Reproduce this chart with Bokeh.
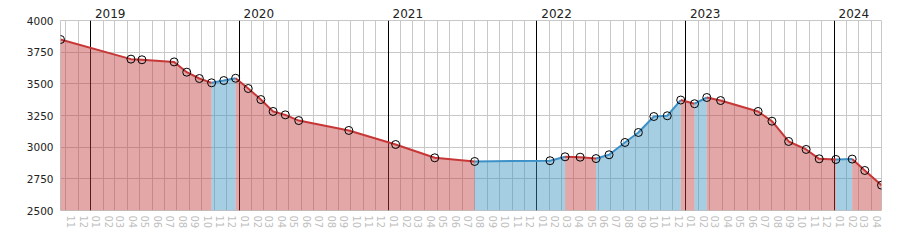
import pandas as pd
from bokeh.plotting import figure
from bokeh.models import FixedTicker, LinearAxis, Grid, Range1d
from bokeh.embed import file_html
from bokeh.resources import INLINE

# ---- data ----
dates = [
    "2018-10-19", "2019-04-10", "2019-05-07", "2019-07-25", "2019-08-25",
    "2019-09-25", "2019-10-25", "2019-11-24", "2019-12-23", "2020-01-23",
    "2020-02-23", "2020-03-24", "2020-04-23", "2020-05-26", "2020-09-26",
    "2021-01-19", "2021-04-25", "2021-08-01", "2022-02-02", "2022-03-11",
    "2022-04-17", "2022-05-26", "2022-06-27", "2022-08-05", "2022-09-07",
    "2022-10-15", "2022-11-17", "2022-12-20", "2023-01-23", "2023-02-22",
    "2023-03-28", "2023-06-28", "2023-08-01", "2023-09-11", "2023-10-24",
    "2023-11-25", "2024-01-05", "2024-02-14", "2024-03-16", "2024-04-26",
]
values = [
    3850, 3695, 3690, 3673, 3592,
    3542, 3508, 3526, 3544, 3463,
    3376, 3282, 3255, 3210, 3132,
    3021, 2916, 2887, 2893, 2924,
    2921, 2910, 2940, 3037, 3116,
    3242, 3248, 3372, 3343, 3392,
    3368, 3282, 3205, 3045, 2982,
    2908, 2903, 2906, 2816, 2700,
]
y_ticks = [2500, 2750, 3000, 3250, 3500, 3750, 4000]
year_labels = ["2019", "2020", "2021", "2022", "2023", "2024"]
month_starts = list(pd.date_range("2018-11-01", "2024-04-01", freq="MS"))
month_labels = [d.strftime("%m") for d in month_starts]

Y_MIN, Y_MAX = 2500, 4000
RED_FILL, BLUE_FILL = "#c03c3c", "#3992c0"
RED_LINE, BLUE_LINE = "#c83737", "#3c91c8"
GRID = "#c8c8c8"
FONT = "DejaVu Sans"


def ms(d):
    return int(pd.Timestamp(d).value // 10**6)


DAY = 86400000
xs = [ms(d) for d in dates]

p = figure(width=900, height=250, output_backend="svg", toolbar_location=None,
           x_range=Range1d(xs[0], xs[-1]), y_range=Range1d(Y_MIN, Y_MAX),
           min_border_left=60, min_border_right=19, min_border_top=20,
           min_border_bottom=40)
p.background_fill_color = "white"
p.border_fill_color = "white"
p.outline_line_color = GRID

# grids
p.xgrid.ticker = FixedTicker(ticks=[ms(d) for d in month_starts])
p.xgrid.grid_line_color = GRID
p.ygrid.ticker = FixedTicker(ticks=y_ticks)
p.ygrid.grid_line_color = GRID
year_starts = [ms(f"{y}-01-01") for y in year_labels]
p.add_layout(Grid(dimension=0, ticker=FixedTicker(ticks=year_starts),
                  grid_line_color="black", grid_line_width=1))

# y axis
p.yaxis.ticker = FixedTicker(ticks=y_ticks)
p.yaxis.axis_line_color = None
p.yaxis.major_tick_line_color = None
p.yaxis.minor_tick_line_color = None
p.yaxis.major_tick_out = 0
p.yaxis.major_label_standoff = 7
p.yaxis.major_label_text_font = FONT
p.yaxis.major_label_text_font_size = "10.5px"
p.yaxis.major_label_text_color = "#222222"

# bottom axis: month numbers at mid-month
mid_ticks = [ms(d) + 14 * DAY for d in month_starts]
p.xaxis.ticker = FixedTicker(ticks=mid_ticks)
p.xaxis.major_label_overrides = {t: lab for t, lab in zip(mid_ticks, month_labels)}
p.xaxis.major_label_orientation = "vertical"
p.xaxis.axis_line_color = None
p.xaxis.major_tick_line_color = None
p.xaxis.minor_tick_line_color = None
p.xaxis.major_tick_out = 0
p.xaxis.major_label_standoff = 5
p.xaxis.major_label_text_font = FONT
p.xaxis.major_label_text_font_size = "10px"
p.xaxis.major_label_text_color = "#c0c0c0"

# top axis: years, label just right of the year line
year_ticks = [t + 48 * DAY for t in year_starts]
top = LinearAxis(ticker=FixedTicker(ticks=year_ticks),
                 major_label_overrides={t: lab for t, lab in zip(year_ticks, year_labels)},
                 axis_line_color=None, major_tick_line_color=None,
                 minor_tick_line_color=None, major_tick_out=0,
                 major_label_standoff=3, major_label_text_font=FONT,
                 major_label_text_font_size="12px",
                 major_label_text_color="#222222")
p.add_layout(top, "above")

# runs of rising / falling segments
runs = []
for i in range(len(xs) - 1):
    up = values[i + 1] > values[i]
    if runs and runs[-1][0] == up:
        runs[-1][1].append(i + 1)
    else:
        runs.append([up, [i, i + 1]])

for up, idx in runs:
    rx = [xs[k] for k in idx]
    ry = [values[k] for k in idx]
    p.patch(rx + [rx[-1], rx[0]], ry + [Y_MIN, Y_MIN],
            fill_color=BLUE_FILL if up else RED_FILL, fill_alpha=0.45,
            line_color=None)
for up, idx in runs:
    rx = [xs[k] for k in idx]
    ry = [values[k] for k in idx]
    p.line(rx, ry, line_color=BLUE_LINE if up else RED_LINE, line_width=2)

p.scatter(xs, values, marker="circle", size=8, fill_color=None,
          line_color="black", line_width=1)

open("out.html", "w").write(file_html(p, INLINE))
